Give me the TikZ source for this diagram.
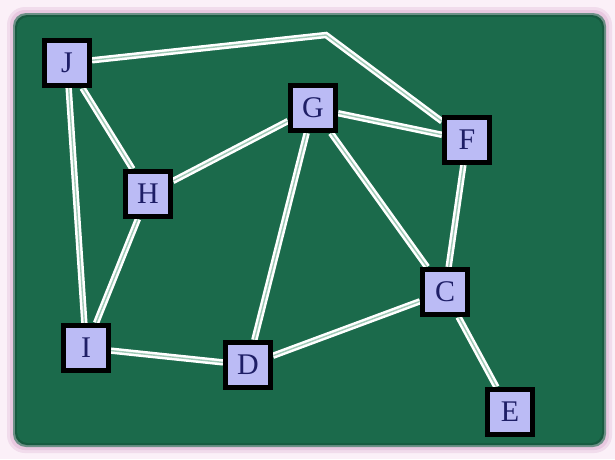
\documentclass[tikz,border=0pt]{standalone}
\usepackage{fontspec}
\setmainfont{Liberation Serif}
\definecolor{bgout}{HTML}{FBF0F8}
\definecolor{glow}{HTML}{E8C8E0}
\definecolor{board}{HTML}{1B6A4B}
\definecolor{boxfill}{HTML}{BBBBF5}
\definecolor{ink}{HTML}{1E1E66}
\definecolor{edgemid}{HTML}{9FC9B6}
\begin{document}
\begin{tikzpicture}[x=1pt,y=-1pt,
  vertex/.style={draw=black,line width=5pt,fill=boxfill,minimum width=45pt,minimum height=45pt,inner sep=0pt,text=ink,font=\fontsize{30}{30}\selectfont},
  link/.style={draw=white,double=edgemid,double distance=1.4pt,line width=2.5pt}]
\useasboundingbox (0,0) rectangle (615,459);
\fill[bgout] (0,0) rectangle (615,459);
\fill[glow!50!bgout,rounded corners=18pt] (7,7) rectangle (612,453);
\fill[glow,rounded corners=15pt] (10,10) rectangle (609,450);
\fill[board!60!glow,rounded corners=13pt] (13,13) rectangle (606,447);
\fill[board!85!black,rounded corners=12pt] (15,15) rectangle (604,445);
\fill[board,rounded corners=11pt] (17,17) rectangle (602,443);
\node[vertex] (J) at (67,63) {J};
\node[vertex] (G) at (313,108) {G};
\node[vertex] (F) at (467,140) {F};
\node[vertex] (H) at (148,194) {H};
\node[vertex] (C) at (445,292) {C};
\node[vertex] (I) at (86,348) {I};
\node[vertex] (D) at (248,365) {D};
\node[vertex] (E) at (510,412) {E};
\coordinate (bend) at (326,35);
\path[link] (J) -- (bend) -- (F);
\path[link] (J) -- (H);
\path[link] (J) -- (I);
\path[link] (H) -- (G);
\path[link] (H) -- (I);
\path[link] (G) -- (F);
\path[link] (G) -- (D);
\path[link] (G) -- (C);
\path[link] (F) -- (C);
\path[link] (C) -- (D);
\path[link] (C) -- (E);
\path[link] (I) -- (D);
\foreach \n in {J,G,F,H,C,I,D,E}{\node[vertex] at (\n) {\n};}
\end{tikzpicture}
\end{document}
